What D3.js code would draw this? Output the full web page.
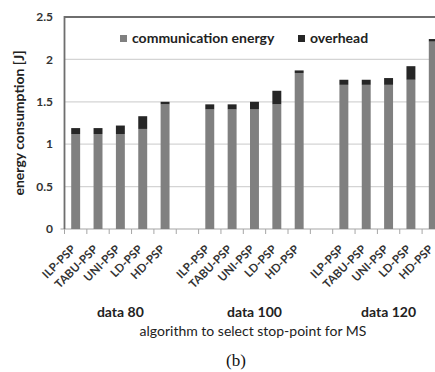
<!DOCTYPE html>
<html>
<head>
<meta charset="utf-8">
<script src="https://cdn.jsdelivr.net/npm/d3@7"></script>
<style>
  body { margin: 0; background: #fff; }
  svg { display: block; font-family: Lato, "Open Sans", sans-serif; }
</style>
</head>
<body>
<div id="chart"></div>
<script>
const groups = ["data 80", "data 100", "data 120"]
const algorithms = ["ILP-PSP", "TABU-PSP", "UNI-PSP", "LD-PSP", "HD-PSP"]
const communication = [1.12, 1.12, 1.12, 1.18, 1.47, 1.41, 1.41, 1.41, 1.47, 1.84, 1.70, 1.70, 1.70, 1.76, 2.21]
const overhead = [0.07, 0.07, 0.10, 0.15, 0.03, 0.06, 0.06, 0.09, 0.16, 0.03, 0.06, 0.06, 0.08, 0.16, 0.03]
const yTicks = [0, 0.5, 1, 1.5, 2, 2.5]

const width = 435
const height = 372
const plotLeft = 64.5
const plotTop = 17
const plotBottom = 229

const svg = d3.select("#chart").append("svg")
    .attr("width", width)
    .attr("height", height)

// slots: 5 bars per group, one empty slot between groups
let slots = []
let data = []
groups.forEach((g, gi) => {
    if (gi > 0) slots.push("gap" + gi)
    algorithms.forEach((a, ai) => {
        const key = g + "|" + a
        slots.push(key)
        const i = gi * algorithms.length + ai
        data.push({ key: key, group: g, alg: a, comm: communication[i], over: overhead[i] })
    })
})

const step = 22.35
const x = d3.scaleBand()
    .domain(slots)
    .range([plotLeft, plotLeft + slots.length * step])
    .paddingInner(0.6)
    .paddingOuter(0.3)

const y = d3.scaleLinear().domain([0, 2.5]).range([plotBottom, plotTop])

// gridlines
svg.append("g")
    .selectAll("line")
    .data(yTicks.slice(1, -1))
    .join("line")
    .attr("x1", plotLeft)
    .attr("x2", width)
    .attr("y1", (d) => y(d))
    .attr("y2", (d) => y(d))
    .attr("stroke", "#d4d4d4")
    .attr("stroke-width", 1.2)

// bottom axis with ticks at slot boundaries
const xAxis = svg.append("g")
xAxis.append("line")
    .attr("x1", plotLeft - 4).attr("x2", width)
    .attr("y1", plotBottom).attr("y2", plotBottom)
    .attr("stroke", "#a6a6a6").attr("stroke-width", 1.2)
xAxis.selectAll(".tick")
    .data(d3.range(slots.length + 1))
    .join("line")
    .attr("class", "tick")
    .attr("x1", (i) => plotLeft + i * x.step())
    .attr("x2", (i) => plotLeft + i * x.step())
    .attr("y1", plotBottom)
    .attr("y2", plotBottom + 5)
    .attr("stroke", "#a6a6a6")

// bars
const bars = svg.append("g")
bars.selectAll(".comm")
    .data(data)
    .join("rect")
    .attr("class", "comm")
    .attr("x", (d) => x(d.key))
    .attr("width", x.bandwidth())
    .attr("y", (d) => y(d.comm))
    .attr("height", (d) => y(0) - y(d.comm))
    .attr("fill", "#808080")
bars.selectAll(".over")
    .data(data)
    .join("rect")
    .attr("class", "over")
    .attr("x", (d) => x(d.key))
    .attr("width", x.bandwidth())
    .attr("y", (d) => y(d.comm + d.over))
    .attr("height", (d) => y(d.comm) - y(d.comm + d.over))
    .attr("fill", "#262626")

// border (top and left)
svg.append("path")
    .attr("d", `M${plotLeft},${plotBottom}V${plotTop}H${width + 2}`)
    .attr("fill", "none")
    .attr("stroke", "#6e6e6e")
    .attr("stroke-width", 1.8)

// y tick labels
svg.append("g")
    .selectAll("text")
    .data(yTicks)
    .join("text")
    .attr("x", 53)
    .attr("y", (d) => y(d))
    .attr("dy", "0.35em")
    .attr("text-anchor", "end")
    .attr("font-size", 12)
    .attr("font-weight", "bold")
    .attr("fill", "#333")
    .text((d) => d)

// x labels, rotated
svg.append("g")
    .selectAll("text")
    .data(data)
    .join("text")
    .attr("transform", (d) => `translate(${x(d.key) + x.bandwidth() / 2 + 0.5},${plotBottom + 21}) rotate(-45)`)
    .attr("text-anchor", "end")
    .attr("font-size", 11.5)
    .attr("font-weight", "bold")
    .attr("fill", "#333")
    .text((d) => d.alg)

// group labels
svg.append("g")
    .selectAll("text")
    .data(groups)
    .join("text")
    .attr("x", (g) => {
        const first = x(g + "|" + algorithms[0])
        const last = x(g + "|" + algorithms[algorithms.length - 1])
        return (first + last + x.bandwidth()) / 2
    })
    .attr("y", 317)
    .attr("text-anchor", "middle")
    .attr("font-size", 14)
    .attr("font-weight", "bold")
    .attr("fill", "#222")
    .text((g) => g)

svg.append("text")
    .attr("x", 253)
    .attr("y", 336)
    .attr("text-anchor", "middle")
    .attr("font-size", 14)
    .attr("fill", "#222")
    .text("algorithm to select stop-point for MS")

svg.append("text")
    .attr("transform", `translate(24,123) rotate(-90)`)
    .attr("text-anchor", "middle")
    .attr("font-size", 14)
    .attr("font-weight", "bold")
    .attr("fill", "#222")
    .text("energy consumption [J]")

// legend
const legendItems = [
    { name: "communication energy", color: "#808080", x: 120 },
    { name: "overhead", color: "#262626", x: 298 }
]
const legend = svg.append("g")
legend.selectAll("rect")
    .data(legendItems)
    .join("rect")
    .attr("x", (d) => d.x)
    .attr("y", 35)
    .attr("width", 7)
    .attr("height", 7)
    .attr("fill", (d) => d.color)
legend.selectAll("text")
    .data(legendItems)
    .join("text")
    .attr("x", (d) => d.x + 12)
    .attr("y", 43)
    .attr("font-size", 14)
    .attr("font-weight", "bold")
    .attr("fill", "#222")
    .text((d) => d.name)

svg.append("text")
    .attr("x", 236)
    .attr("y", 366)
    .attr("text-anchor", "middle")
    .attr("font-family", "'Liberation Serif', 'DejaVu Serif', serif")
    .attr("font-size", 17)
    .attr("fill", "#111")
    .text("(b)")
</script>
</body>
</html>
